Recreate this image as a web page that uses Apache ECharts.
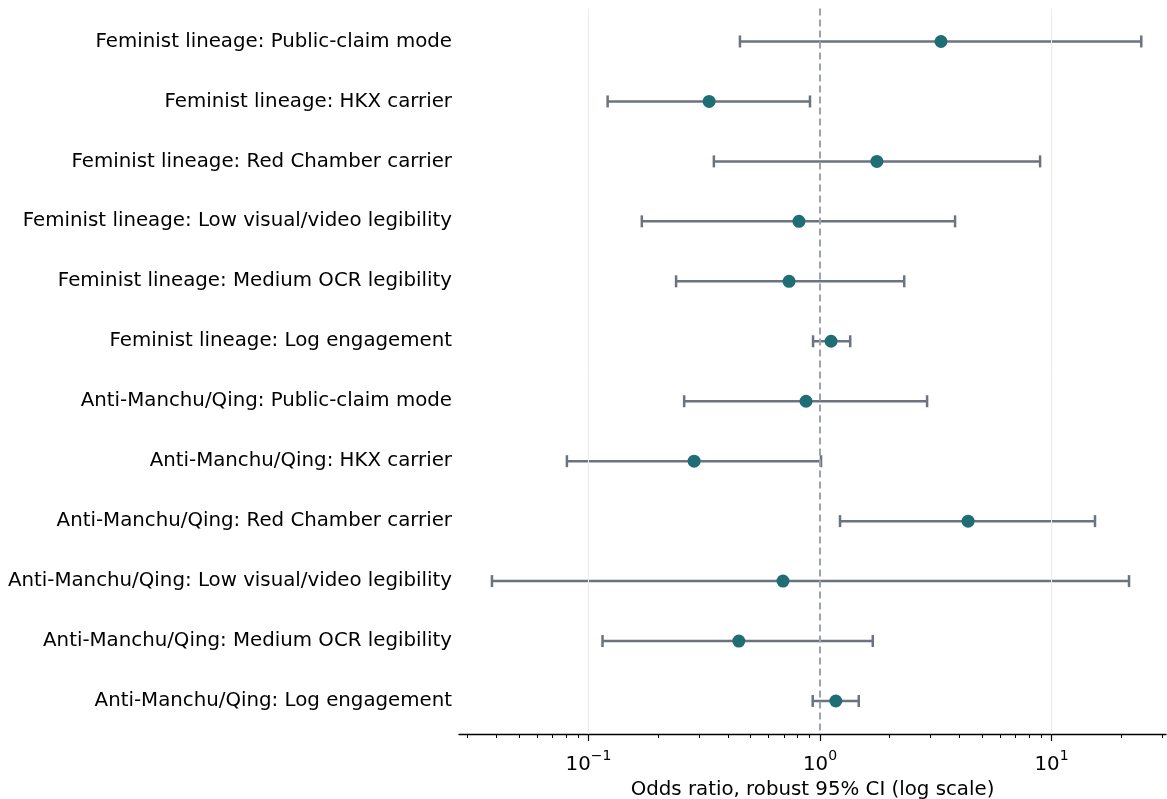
<!DOCTYPE html>
<html>
<head>
<meta charset="utf-8">
<script src="https://cdn.jsdelivr.net/npm/echarts@6/dist/echarts.min.js"></script>
<style>html,body{margin:0;padding:0;background:#fff;}#main{width:1167px;height:799px;}</style>
</head>
<body>
<div id="main"></div>
<script>
const categories = [
  'Feminist lineage: Public-claim mode',
  'Feminist lineage: HKX carrier',
  'Feminist lineage: Red Chamber carrier',
  'Feminist lineage: Low visual/video legibility',
  'Feminist lineage: Medium OCR legibility',
  'Feminist lineage: Log engagement',
  'Anti-Manchu/Qing: Public-claim mode',
  'Anti-Manchu/Qing: HKX carrier',
  'Anti-Manchu/Qing: Red Chamber carrier',
  'Anti-Manchu/Qing: Low visual/video legibility',
  'Anti-Manchu/Qing: Medium OCR legibility',
  'Anti-Manchu/Qing: Log engagement'
];
const oddsRatio = [3.33, 0.332, 1.76, 0.811, 0.735, 1.116, 0.87, 0.286, 4.36, 0.692, 0.446, 1.17];
const ciLower   = [0.451, 0.121, 0.348, 0.170, 0.239, 0.933, 0.259, 0.0807, 1.22, 0.0383, 0.115, 0.93];
const ciUpper   = [24.4, 0.905, 8.92, 3.83, 2.31, 1.35, 2.90, 1.01, 15.4, 21.6, 1.69, 1.47];
const majorTicks = [0.1, 1, 10];
const minorTicks = [0.03,0.04,0.05,0.06,0.07,0.08,0.09,0.2,0.3,0.4,0.5,0.6,0.7,0.8,0.9,2,3,4,5,6,7,8,9,20,30];
const xTitle = 'Odds ratio, robust 95% CI (log scale)';

const rowIdx = categories.map((c, i) => i);
const ciData = rowIdx.map(i => [ciLower[i], ciUpper[i], i]);
const ptData = rowIdx.map(i => [oddsRatio[i], i]);

const XMIN = 0.0276, XMAX = 31.2;
const FONT = 'DejaVu Sans';
const FS = 19.8;

const chart = echarts.init(document.getElementById('main'), null, {renderer: 'canvas'});
chart.setOption({
  animation: false,
  backgroundColor: '#fff',
  grid: {left: 459, top: 8.5, width: 707, height: 725.5, containLabel: false, outerBoundsMode: 'none'},
  xAxis: [{
    type: 'log', logBase: 10, min: XMIN, max: XMAX,
    position: 'bottom',
    name: xTitle, nameLocation: 'middle', nameGap: 44,
    nameTextStyle: {fontFamily: FONT, fontSize: FS, color: '#000'},
    axisLine: {show: true, onZero: false, lineStyle: {color: '#000', width: 1.3}},
    axisTick: {show: true, customValues: majorTicks, length: 7, lineStyle: {color: '#000', width: 1.2}},
    axisLabel: {
      show: true, customValues: majorTicks, margin: 15,
      formatter: function (v) {
        const e = Math.round(Math.log10(v));
        return '{b|10}{s|' + (e < 0 ? '\u2212' + (-e) : e) + '}';
      },
      rich: {
        b: {fontFamily: FONT, fontSize: FS, color: '#000', verticalAlign: 'bottom'},
        s: {fontFamily: FONT, fontSize: 14, color: '#000', verticalAlign: 'top', padding: [0, 0, 12, 0]}
      }
    },
    splitLine: {show: false}
  }, {
    type: 'log', logBase: 10, min: XMIN, max: XMAX,
    position: 'bottom',
    axisLine: {show: false, onZero: false},
    axisTick: {show: true, customValues: minorTicks, length: 4, lineStyle: {color: '#000', width: 1}},
    axisLabel: {show: false},
    splitLine: {show: false}
  }],
  yAxis: {
    type: 'value', inverse: true, min: -0.55, max: 11.55,
    axisLine: {show: false}, axisTick: {show: false}, splitLine: {show: false},
    axisLabel: {
      show: true, customValues: rowIdx, margin: 7,
      formatter: function (v) { return categories[Math.round(v)]; },
      fontFamily: FONT, fontSize: FS, color: '#000'
    }
  },
  series: [{
    type: 'custom',
    xAxisIndex: 0,
    data: ciData,
    encode: {x: [0, 1], y: 2},
    renderItem: function (params, api) {
      const a = api.coord([api.value(0), api.value(2)]);
      const b = api.coord([api.value(1), api.value(2)]);
      const h = 6;
      const st = {stroke: '#6b7280', lineWidth: 2.5};
      return {type: 'group', children: [
        {type: 'line', shape: {x1: a[0], y1: a[1], x2: b[0], y2: b[1]}, style: st},
        {type: 'line', shape: {x1: a[0], y1: a[1] - h, x2: a[0], y2: a[1] + h}, style: st},
        {type: 'line', shape: {x1: b[0], y1: b[1] - h, x2: b[0], y2: b[1] + h}, style: st}
      ]};
    },
    markLine: {
      silent: true, symbol: 'none', label: {show: false}, animation: false,
      data: [
        {xAxis: 0.1, lineStyle: {color: '#ebebeb', width: 1, type: 'solid'}},
        {xAxis: 10, lineStyle: {color: '#ebebeb', width: 1, type: 'solid'}},
        {xAxis: 1, lineStyle: {color: '#9ca3af', width: 2, type: [7, 4]}}
      ]
    },
    z: 2
  }, {
    type: 'scatter',
    xAxisIndex: 0,
    data: ptData,
    symbol: 'circle', symbolSize: 13,
    itemStyle: {color: '#1f6e75', opacity: 1},
    z: 3
  }]
});
</script>
</body>
</html>
